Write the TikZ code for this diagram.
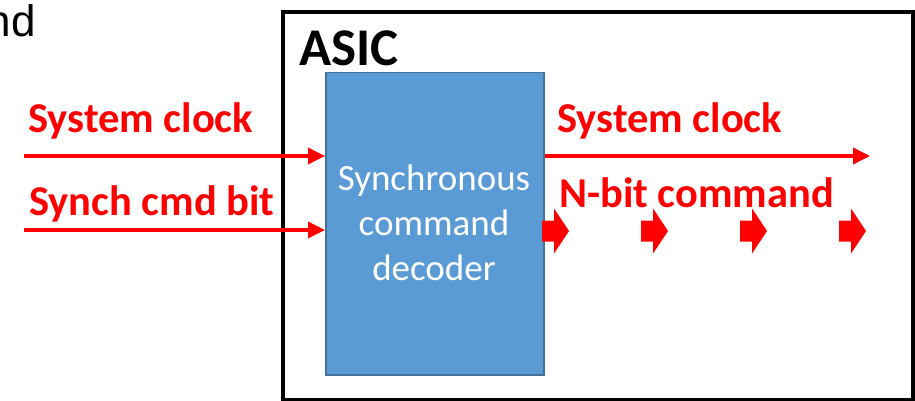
\documentclass[tikz,border=0pt]{standalone}
\usepackage{fontspec}
\setmainfont{Carlito}
\newfontfamily\arialfont{Liberation Sans}
\usetikzlibrary{arrows.meta}
\begin{document}
\begin{tikzpicture}[x=1pt,y=-1pt,
  sig/.style={draw=red,line width=3.5pt,-{Triangle[length=17pt,width=16pt]}},
  lbl/.style={text=red,font=\fontsize{42.5}{50}\bfseries\selectfont,anchor=base west,inner sep=0pt},
  pics/blockarrow/.style={code={
    \fill[red] (0,-10.5) -- (12,-10.5) -- (12,-22.5) -- (27,0) -- (12,22.5) -- (12,10.5) -- (0,10.5) -- cycle;}}
]
\useasboundingbox (0,0) rectangle (915,401);
\fill[white] (0,0) rectangle (915,401);

% tail of a word running in from the left
\begin{scope}
\clip (0,0) rectangle (915,401);
\node[anchor=base east,inner sep=0pt,font=\arialfont\fontsize{44}{50}\selectfont] (nd) at (36,37) {nd};
\end{scope}

% ASIC outline
\node[draw=black,line width=4pt,minimum width=630pt,minimum height=388pt,inner sep=0pt,anchor=north west] (asic) at (281,10) {};
\node[anchor=base west,inner sep=0pt,font=\fontsize{53}{60}\bfseries\selectfont] (asiclbl) at (299,66) {ASIC};

% decoder block
\node[draw={rgb,255:red,65;green,113;blue,156},line width=1.5pt,fill={rgb,255:red,91;green,155;blue,213},
      minimum width=218pt,minimum height=302pt,inner sep=0pt,anchor=north west] (dec) at (325,72) {};
\node[text=white,align=center,font=\fontsize{37}{45}\selectfont,inner sep=0pt,anchor=base] (dtxt) at (434,280)
  {Synchronous\\command\\decoder};

% inputs
\coordinate (clkin) at (24,156);
\coordinate (synin) at (24,230);
\draw[sig] (clkin) -- (clkin -| dec.west);
\draw[sig] (synin) -- (synin -| dec.west);
\node[lbl] (clklbl) at (28,132) {System clock};
\node[lbl] (synlbl) at (29,215) {Synch cmd bit};

% outputs
\coordinate (clkout) at (870,156);
\draw[sig] (clkout -| dec.east) -- (clkout);
\node[lbl] (clkolbl) at (557,132) {System clock};
\node[lbl] (cmdlbl) at (559,207) {N-bit command};

% command bits
\pic at (542,231) {blockarrow};
\pic at (641,231) {blockarrow};
\pic at (740,231) {blockarrow};
\pic at (839,231) {blockarrow};
\end{tikzpicture}
\end{document}
